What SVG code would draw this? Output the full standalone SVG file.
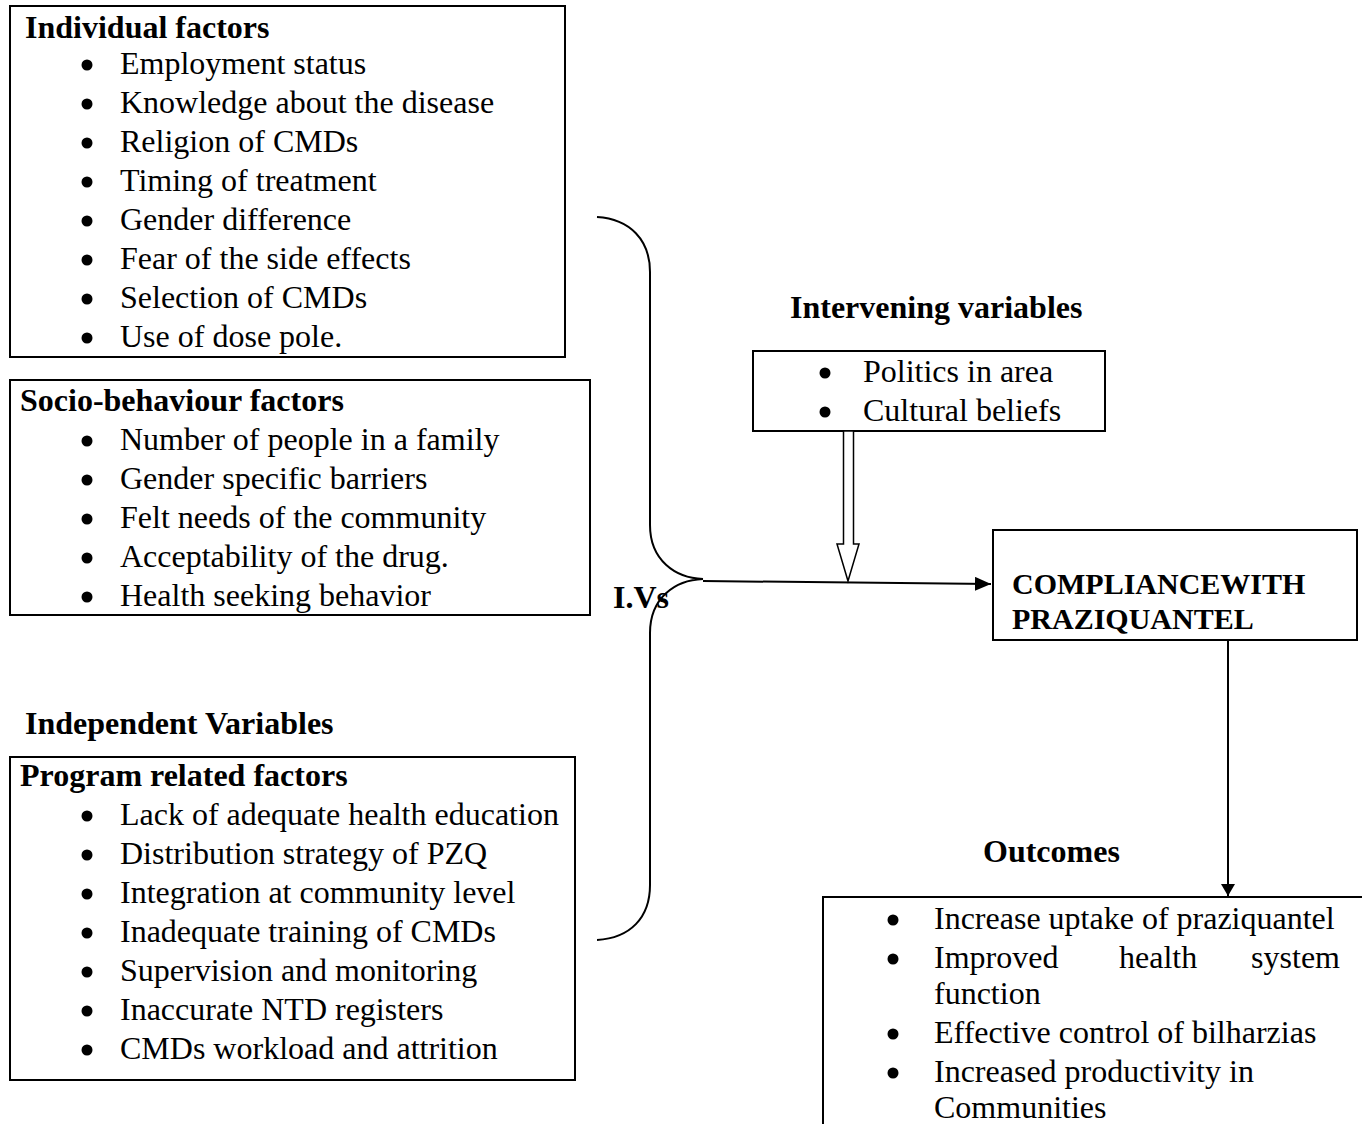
<svg xmlns="http://www.w3.org/2000/svg" width="1362" height="1124" viewBox="0 0 1362 1124">
<style>
text{font-family:"Liberation Serif","Times New Roman",serif;font-size:32px;fill:#000}
.b{font-weight:bold}
.c{font-size:30px}
.box{fill:#fff;stroke:#000;stroke-width:2}
.ln{fill:none;stroke:#000;stroke-width:2}
.dot{fill:#000}
</style>
<defs>
<marker id="ah" markerWidth="12" markerHeight="14" refX="12" refY="7" orient="auto" markerUnits="userSpaceOnUse" viewBox="0 0 12 14">
<path d="M0,0 L12,7 L0,14 z" fill="#000"/>
</marker>
<marker id="ah2" markerWidth="16" markerHeight="14" refX="16" refY="7" orient="auto" markerUnits="userSpaceOnUse" viewBox="0 0 16 14">
<path d="M0,0 L16,7 L0,14 z" fill="#000"/>
</marker>
</defs>
<rect width="1362" height="1124" fill="#fff"/>

<g id="individual">
<rect class="box" x="10" y="6" width="555" height="351"/>
<text class="b" x="25" y="38">Individual factors</text>
<circle class="dot" cx="87" cy="65" r="5.5"/><text x="120" y="74">Employment status</text>
<circle class="dot" cx="87" cy="104" r="5.5"/><text x="120" y="113">Knowledge about the disease</text>
<circle class="dot" cx="87" cy="143" r="5.5"/><text x="120" y="152">Religion of CMDs</text>
<circle class="dot" cx="87" cy="182" r="5.5"/><text x="120" y="191">Timing of treatment</text>
<circle class="dot" cx="87" cy="221" r="5.5"/><text x="120" y="230">Gender difference</text>
<circle class="dot" cx="87" cy="260" r="5.5"/><text x="120" y="269">Fear of the side effects</text>
<circle class="dot" cx="87" cy="299" r="5.5"/><text x="120" y="308">Selection of CMDs</text>
<circle class="dot" cx="87" cy="338" r="5.5"/><text x="120" y="347">Use of dose pole.</text>
</g>

<g id="socio">
<rect class="box" x="10" y="380" width="580" height="235"/>
<text class="b" x="20" y="411">Socio-behaviour factors</text>
<circle class="dot" cx="87" cy="441" r="5.5"/><text x="120" y="450">Number of people in a family</text>
<circle class="dot" cx="87" cy="480" r="5.5"/><text x="120" y="489">Gender specific barriers</text>
<circle class="dot" cx="87" cy="519" r="5.5"/><text x="120" y="528">Felt needs of the community</text>
<circle class="dot" cx="87" cy="558" r="5.5"/><text x="120" y="567">Acceptability of the drug.</text>
<circle class="dot" cx="87" cy="597" r="5.5"/><text x="120" y="606">Health seeking behavior</text>
</g>

<g id="independent-label">
<text class="b" x="25" y="734">Independent Variables</text>
</g>

<g id="program">
<rect class="box" x="10" y="757" width="565" height="323"/>
<text class="b" x="20" y="786">Program related factors</text>
<circle class="dot" cx="87" cy="816" r="5.5"/><text x="120" y="825">Lack of adequate health education</text>
<circle class="dot" cx="87" cy="855" r="5.5"/><text x="120" y="864">Distribution strategy of PZQ</text>
<circle class="dot" cx="87" cy="894" r="5.5"/><text x="120" y="903">Integration at community level</text>
<circle class="dot" cx="87" cy="933" r="5.5"/><text x="120" y="942">Inadequate training of CMDs</text>
<circle class="dot" cx="87" cy="972" r="5.5"/><text x="120" y="981">Supervision and monitoring</text>
<circle class="dot" cx="87" cy="1011" r="5.5"/><text x="120" y="1020">Inaccurate NTD registers</text>
<circle class="dot" cx="87" cy="1050" r="5.5"/><text x="120" y="1059">CMDs workload and attrition</text>
</g>

<g id="intervening">
<text class="b" x="790" y="318">Intervening variables</text>
<rect class="box" x="753" y="351" width="352" height="80"/>
<circle class="dot" cx="825" cy="373" r="5.5"/><text x="863" y="382">Politics in area</text>
<circle class="dot" cx="825" cy="412" r="5.5"/><text x="863" y="421">Cultural beliefs</text>
</g>

<g id="compliance">
<rect class="box" x="993" y="530" width="364" height="110"/>
<text class="b c" x="1012" y="594">COMPLIANCEWITH</text>
<text class="b c" x="1012" y="629">PRAZIQUANTEL</text>
</g>

<g id="outcomes">
<text class="b" x="983" y="862">Outcomes</text>
<rect class="box" x="823" y="897" width="545" height="240"/>
<circle class="dot" cx="893" cy="920" r="5.5"/><text x="934" y="929">Increase uptake of praziquantel</text>
<circle class="dot" cx="893" cy="959" r="5.5"/><text x="934" y="968">Improved</text><text x="1119" y="968">health</text><text x="1340" y="968" text-anchor="end">system</text>
<text x="934" y="1004">function</text>
<circle class="dot" cx="893" cy="1034" r="5.5"/><text x="934" y="1043">Effective control of bilharzias</text>
<circle class="dot" cx="893" cy="1073" r="5.5"/><text x="934" y="1082">Increased productivity in</text>
<text x="934" y="1118">Communities</text>
</g>

<g id="ivs">
<text class="b" x="613" y="608">I.Vs</text>
</g>

<g id="connectors">
<path class="ln" d="M597,217 C630,219 650,240 650,272 L650,525 C650,560 675,578 703,579 C675,580 650,598 650,633 L650,885 C650,918 630,938 597,940"/>
<line class="ln" x1="703" y1="581" x2="991" y2="584" marker-end="url(#ah2)"/>
<path d="M843.5,431 L853.5,431 L853.5,544 L859,544 L848,581 L837,544 L843.5,544 Z" fill="#fff" stroke="#000" stroke-width="1.5"/>
<line class="ln" x1="1228" y1="641" x2="1228" y2="896" marker-end="url(#ah)"/>
</g>
</svg>
